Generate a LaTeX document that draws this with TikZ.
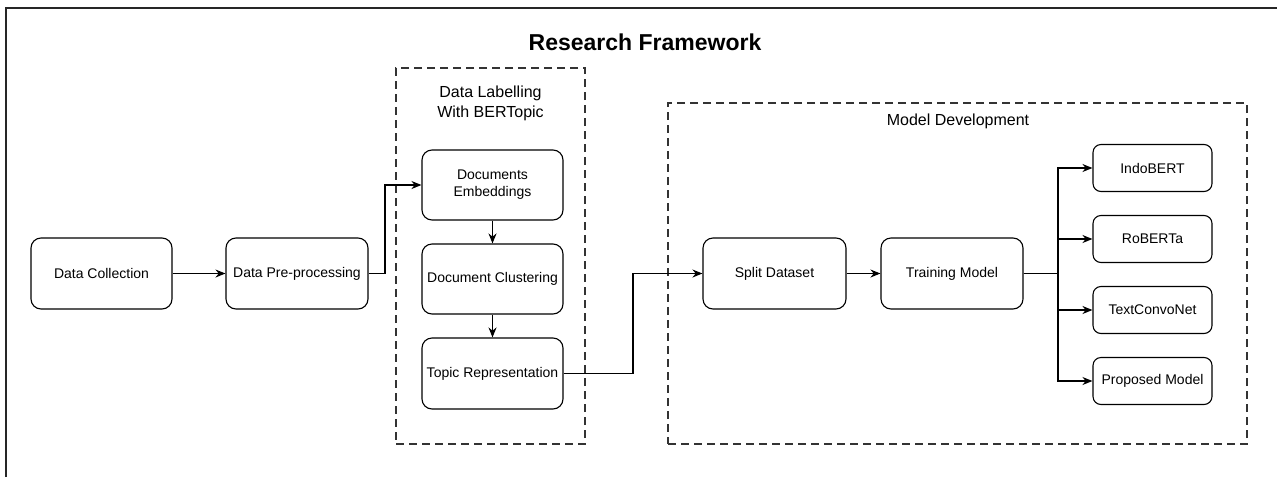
\documentclass[tikz,border=0pt]{standalone}
\usepackage{fontspec}
\setmainfont{Liberation Sans}
\usetikzlibrary{arrows.meta}
\begin{document}
\begin{tikzpicture}[x=1pt,y=-1pt,
  box/.style={draw=black, line width=1.1pt, rounded corners=10pt, align=center,
    inner sep=0pt, font=\fontsize{14}{17}\selectfont},
  bigbox/.style={box, minimum width=141pt, minimum height=71pt},
  smallbox/.style={box, rounded corners=8pt, minimum width=119pt, minimum height=47pt},
  grp/.style={draw=black!80, line width=1.1pt, dash pattern=on 8pt off 5pt},
  lbl/.style={align=center, font=\fontsize{16}{20}\selectfont, inner sep=0pt},
  arr/.style={draw=black, line width=1.1pt, -{Stealth[length=10pt,width=8pt]}},
  frame/.style={draw=black!85, line width=1.4pt}
]
\useasboundingbox (0,0) rectangle (1277,477);
% outer frame (cropped)
\coordinate (f1) at (6,477);
\coordinate (f2) at (6,8);
\coordinate (f3) at (1277,8);
\draw[frame] (f1) -- (f2) -- (f3);
% title
\node[font=\fontsize{23}{27}\selectfont\bfseries, inner sep=0pt] (title) at (645,42) {Research Framework};
% groups
\node[grp, minimum width=189pt, minimum height=376pt, inner sep=0pt] (dlg) at (490.5,256) {};
\node[grp, minimum width=579pt, minimum height=341pt, inner sep=0pt] (mdg) at (957.5,273.5) {};
\node[lbl] (dll) at (490.5,103) {Data Labelling\\With BERTopic};
\node[lbl] (mdl) at (958,121) {Model Development};
% nodes
\node[bigbox] (dc) at (101.5,273.5) {Data Collection};
\node[bigbox, minimum width=142pt] (pp) at (297,273.5) {Data Pre-processing};
\node[bigbox, minimum height=70pt] (de) at (492.5,185) {Documents\\Embeddings};
\node[bigbox, minimum height=70pt] (dcl) at (492.5,279) {Document Clustering};
\node[bigbox] (tr) at (492.5,373.5) {Topic Representation};
\node[bigbox, minimum width=143pt] (sd) at (774.5,273.5) {Split Dataset};
\node[bigbox, minimum width=142pt] (tm) at (952,273.5) {Training Model};
\node[smallbox] (ib) at (1152.5,168) {IndoBERT};
\node[smallbox] (rb) at (1152.5,239) {RoBERTa};
\node[smallbox] (tc) at (1152.5,310) {TextConvoNet};
\node[smallbox] (pm) at (1152.5,381) {Proposed Model};
% connectors
\coordinate (c1) at (385,273.5);
\coordinate (c2) at (633,373.5);
\coordinate (br) at (1058,273.5);
\draw[arr] (dc) -- (pp);
\draw[arr] (pp.east) -- (c1) |- (de.west);
\draw[arr] (de) -- (dcl);
\draw[arr] (dcl) -- (tr);
\draw[arr] (tr.east) -- (c2) |- (sd.west);
\draw[arr] (sd) -- (tm);
\draw[arr] (tm.east) -- (br) |- (ib.west);
\draw[arr] (tm.east) -- (br) |- (rb.west);
\draw[arr] (tm.east) -- (br) |- (tc.west);
\draw[arr] (tm.east) -- (br) |- (pm.west);
\end{tikzpicture}
\end{document}
